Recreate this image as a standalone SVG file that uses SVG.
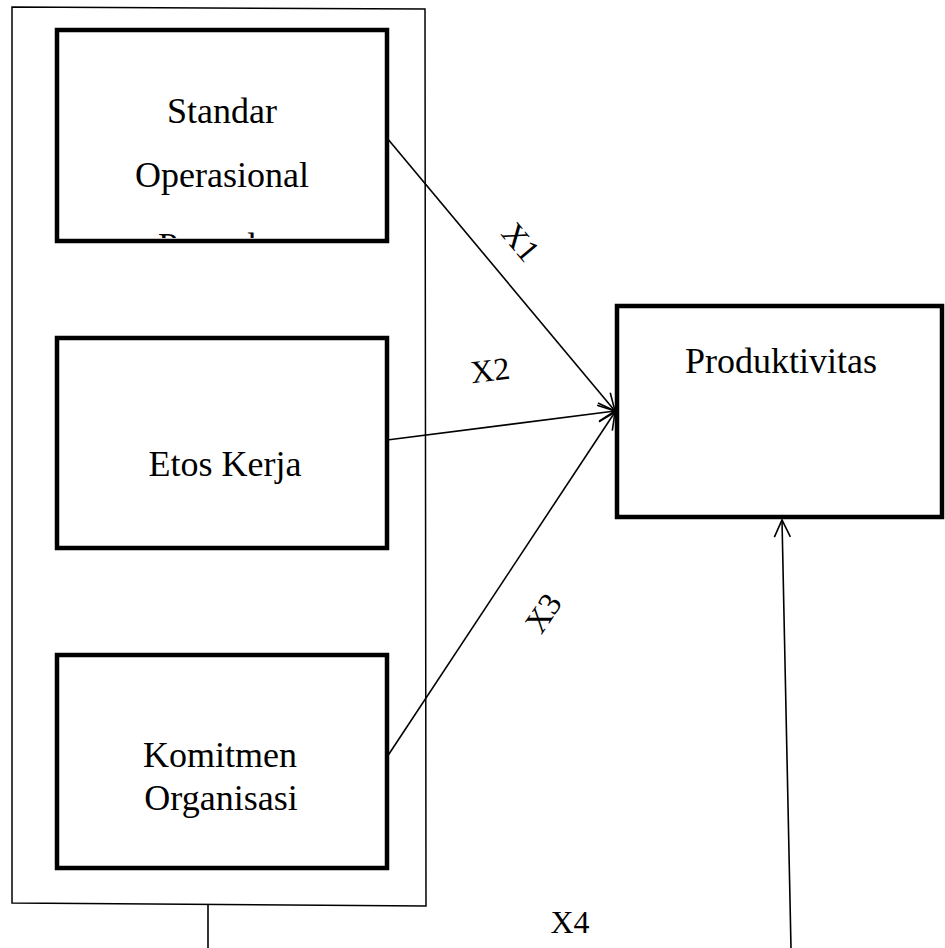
<svg xmlns="http://www.w3.org/2000/svg" width="945" height="948" viewBox="0 0 945 948">
<style>
.box{fill:#fff;stroke:#000;stroke-width:4.5}
.outer{fill:#fff;stroke:#000;stroke-width:1.5}
.t{font-family:"Liberation Serif","Times New Roman",serif;font-size:36px;fill:#000;text-anchor:middle}
.lbl{font-family:"Liberation Serif","Times New Roman",serif;font-size:32px;fill:#000;text-anchor:middle}
.c{fill:none;stroke:#000;stroke-width:1.6}
</style>
<defs>
<marker id="ah" markerUnits="userSpaceOnUse" markerWidth="30" markerHeight="30" refX="18" refY="9" orient="auto">
<path d="M1,1 L18,9 L1,17" fill="none" stroke="#000" stroke-width="1.6"/>
</marker>
<clipPath id="clip1"><rect x="59" y="32" width="326" height="206"/></clipPath>
</defs>
<g id="container">
<polygon class="outer" points="12,7 425,9 426,906 12,903"/>
</g>
<g id="node-sop">
<rect class="box" x="57" y="30" width="330" height="211"/>
<g clip-path="url(#clip1)">
<text class="t" x="222" y="123">Standar</text>
<text class="t" x="222" y="187">Operasional</text>
<text class="t" x="222" y="258">Prosedur</text>
</g>
</g>
<g id="node-etos">
<rect class="box" x="57" y="338" width="330" height="210"/>
<text class="t" x="225" y="476">Etos Kerja</text>
</g>
<g id="node-komitmen">
<rect class="box" x="57" y="655" width="330" height="213"/>
<text class="t" x="220" y="767">Komitmen</text>
<text class="t" x="221" y="810">Organisasi</text>
</g>
<g id="node-produktivitas">
<rect class="box" x="617" y="306" width="325" height="211"/>
<text class="t" x="781" y="373">Produktivitas</text>
</g>
<g id="connectors">
<line class="c" x1="387" y1="138" x2="615" y2="411" marker-end="url(#ah)"/>
<line class="c" x1="387" y1="440" x2="615" y2="411" marker-end="url(#ah)"/>
<line class="c" x1="387" y1="757" x2="615" y2="412" marker-end="url(#ah)"/>
<line class="c" x1="208" y1="905" x2="208" y2="948"/>
<line class="c" x1="791" y1="948" x2="782" y2="520" marker-end="url(#ah)"/>
<text class="lbl" transform="translate(521,242) rotate(50)" x="0" y="11">X1</text>
<text class="lbl" transform="translate(490,370) rotate(-7)" x="0" y="11">X2</text>
<text class="lbl" transform="translate(543,613) rotate(-56)" x="0" y="11">X3</text>
<text class="lbl" x="570" y="933">X4</text>
</g>
</svg>
